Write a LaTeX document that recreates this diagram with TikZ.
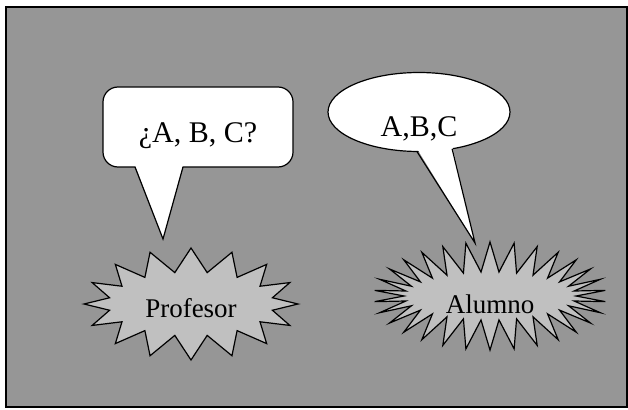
\documentclass[tikz,border=0pt]{standalone}
\usepackage{fontspec}
\setmainfont{Liberation Serif}
\usepackage{xcolor}
\usepackage{tikz}
\usetikzlibrary{shapes.symbols, shapes.geometric}

\definecolor{panelgray}{RGB}{150,150,150}
\definecolor{stargray}{RGB}{192,192,192}

\begin{document}
\begin{tikzpicture}[
        x=1pt, y=-1pt,
        every node/.style={inner sep=0pt, outer sep=0pt, text depth=0pt},
        bubble/.style={draw, fill=white, line width=1.2pt, font=\fontsize{30}{34}\selectfont},
        burst/.style={draw, fill=stargray, line width=1.2pt, starburst, random starburst=0, font=\fontsize{27}{31}\selectfont},
        pointer/.style={draw, line width=1.2pt, line join=miter}
    ]
    \useasboundingbox (0,0) rectangle (628,409);
    \draw[fill=panelgray, line width=1.2pt] (6,7) rectangle (627,407);

    % Nodes
    \node (profesor) [burst, starburst points=16, starburst point height=24pt, text height=26pt,
        minimum width=214pt, minimum height=112pt] at (191,304) {Profesor};
    \node (alumno) [burst, starburst points=30, starburst point height=30pt, text height=34pt,
        minimum width=232pt, minimum height=98pt] at (490,296) {Alumno};
    \node (pregunta) [bubble, rectangle, rounded corners=15pt, text height=30pt,
        minimum width=190pt, minimum height=80pt] at (198,127) {¿A, B, C?};
    \node (respuesta) [bubble, ellipse, text height=48pt,
        minimum width=182pt, minimum height=79pt] at (419,112) {A,B,C};
    \coordinate (puntaP) at (163,239);
    \coordinate (puntaA) at (475,243);

    % Arrows
    \fill[white] ([xshift=-63pt,yshift=2pt]pregunta.south) -- (puntaP) -- ([xshift=-15pt,yshift=2pt]pregunta.south) -- cycle;
    \draw[pointer] ([xshift=-63pt]pregunta.south) -- (puntaP) -- ([xshift=-15pt]pregunta.south);
    \fill[white] ([yshift=3pt]respuesta.-93) -- (puntaA) -- ([yshift=3pt]respuesta.-48) -- cycle;
    \draw[pointer] (respuesta.-93) -- (puntaA) -- (respuesta.-48);
\end{tikzpicture}
\end{document}
